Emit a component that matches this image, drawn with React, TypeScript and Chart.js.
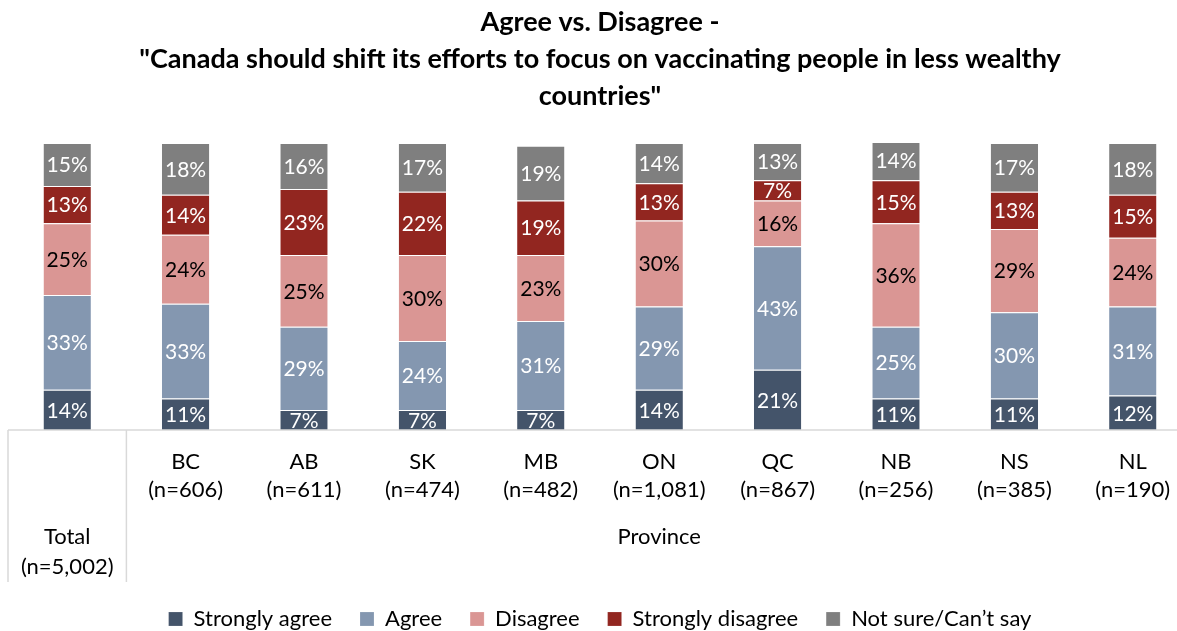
import React, { useEffect, useRef } from "react";
import { Chart, registerables } from "chart.js";

Chart.register(...registerables);

const categories = ["Total", "BC", "AB", "SK", "MB", "ON", "QC", "NB", "NS", "NL"];
const sampleSizes = ["(n=5,002)", "(n=606)", "(n=611)", "(n=474)", "(n=482)", "(n=1,081)", "(n=867)", "(n=256)", "(n=385)", "(n=190)"];
const groupLabel = "Province";

const stronglyAgree = [14, 11, 7, 7, 7, 14, 21, 11, 11, 12];
const agree = [33, 33, 29, 24, 31, 29, 43, 25, 30, 31];
const disagree = [25, 24, 25, 30, 23, 30, 16, 36, 29, 24];
const stronglyDisagree = [13, 14, 23, 22, 19, 13, 7, 15, 13, 15];
const notSure = [15, 18, 16, 17, 19, 14, 13, 14, 17, 18];

const seriesNames = ["Strongly agree", "Agree", "Disagree", "Strongly disagree", "Not sure/Can\u2019t say"];
const seriesColors = ["#44546A", "#8497B0", "#DA9694", "#922620", "#7F7F7F"];
const labelColors = ["#FFFFFF", "#FFFFFF", "#000000", "#FFFFFF", "#FFFFFF"];

const titleLines = [
  "Agree vs. Disagree -",
  "\"Canada should shift its efforts to focus on vaccinating people in less wealthy",
  "countries\"",
];

const FONT = "Lato";

const dataLabelPlugin = {
  id: "dataLabels",
  afterDatasetsDraw(chart: any) {
    const ctx = chart.ctx;
    ctx.save();
    ctx.font = `21px ${FONT}`;
    ctx.textAlign = "center";
    ctx.textBaseline = "middle";
    chart.data.datasets.forEach((ds: any, i: number) => {
      const meta = chart.getDatasetMeta(i);
      meta.data.forEach((bar: any, j: number) => {
        const v = ds.data[j];
        const p = bar.getProps(["x", "y", "base"], true);
        ctx.fillStyle = labelColors[i];
        ctx.fillText(v + "%", p.x, (p.y + p.base) / 2 + 1);
      });
    });
    ctx.restore();
  },
};

const axisPlugin = {
  id: "multiAxis",
  afterDraw(chart: any) {
    const ctx = chart.ctx;
    const xs = chart.scales.x;
    const area = chart.chartArea;
    const bottom = area.bottom;
    const sepX = (xs.getPixelForValue(0) + xs.getPixelForValue(1)) / 2;
    ctx.save();
    ctx.strokeStyle = "#D9D9D9";
    ctx.lineWidth = 1.5;
    ctx.beginPath();
    ctx.moveTo(area.left, bottom);
    ctx.lineTo(area.right, bottom);
    [area.left, sepX, area.right].forEach((x) => {
      ctx.moveTo(x, bottom);
      ctx.lineTo(x, bottom + 152);
    });
    ctx.stroke();
    ctx.fillStyle = "#000";
    ctx.font = `22px ${FONT}`;
    ctx.textAlign = "center";
    ctx.textBaseline = "middle";
    categories.forEach((c, i) => {
      const x = xs.getPixelForValue(i);
      if (i === 0) {
        ctx.fillText(c, x, bottom + 107);
        ctx.fillText(sampleSizes[i], x, bottom + 137);
      } else {
        ctx.fillText(c, x, bottom + 32);
        ctx.fillText(sampleSizes[i], x, bottom + 60);
      }
    });
    ctx.fillText(groupLabel, (sepX + area.right) / 2, bottom + 107);
    ctx.restore();
  },
};

export default function App() {
  const ref = useRef<HTMLCanvasElement>(null);
  useEffect(() => {
    if (!ref.current) return;
    const seriesData = [stronglyAgree, agree, disagree, stronglyDisagree, notSure];
    const chart = new Chart(ref.current, {
      type: "bar",
      data: {
        labels: categories,
        datasets: seriesData.map((d, i) => ({
          label: seriesNames[i],
          data: d,
          backgroundColor: seriesColors[i],
          borderColor: "rgba(255,255,255,0.7)",
          borderWidth: { top: 1, bottom: 0, left: 0, right: 0 },
          borderSkipped: false,
          categoryPercentage: 1,
          barPercentage: 0.4,
        })),
      },
      options: {
        responsive: false,
        animation: false,
        layout: { padding: { left: 8, right: 8, top: 0, bottom: 0 } },
        scales: {
          x: {
            stacked: true,
            grid: { display: false },
            border: { display: false },
            ticks: { display: false },
            afterFit: (s: any) => {
              s.height = 150;
            },
          },
          y: {
            stacked: true,
            display: false,
            min: 0,
            max: 100,
          },
        },
        plugins: {
          title: {
            display: true,
            text: titleLines,
            color: "#000",
            font: { family: FONT, size: 27, weight: "bold", lineHeight: 37 / 27 },
            padding: { top: 4, bottom: 28 },
          },
          legend: {
            position: "bottom",
            labels: {
              color: "#000",
              font: { family: FONT, size: 22 },
              boxWidth: 14,
              boxHeight: 14,
              padding: 28,
            },
          },
          tooltip: { enabled: false },
        },
      },
      plugins: [dataLabelPlugin, axisPlugin],
    });
    return () => chart.destroy();
  }, []);
  return (
    <div style={{ position: "fixed", left: 0, top: 0, width: 1177, height: 631, overflow: "hidden", background: "#fff" }}>
      <canvas ref={ref} width={1200} height={640} />
    </div>
  );
}
